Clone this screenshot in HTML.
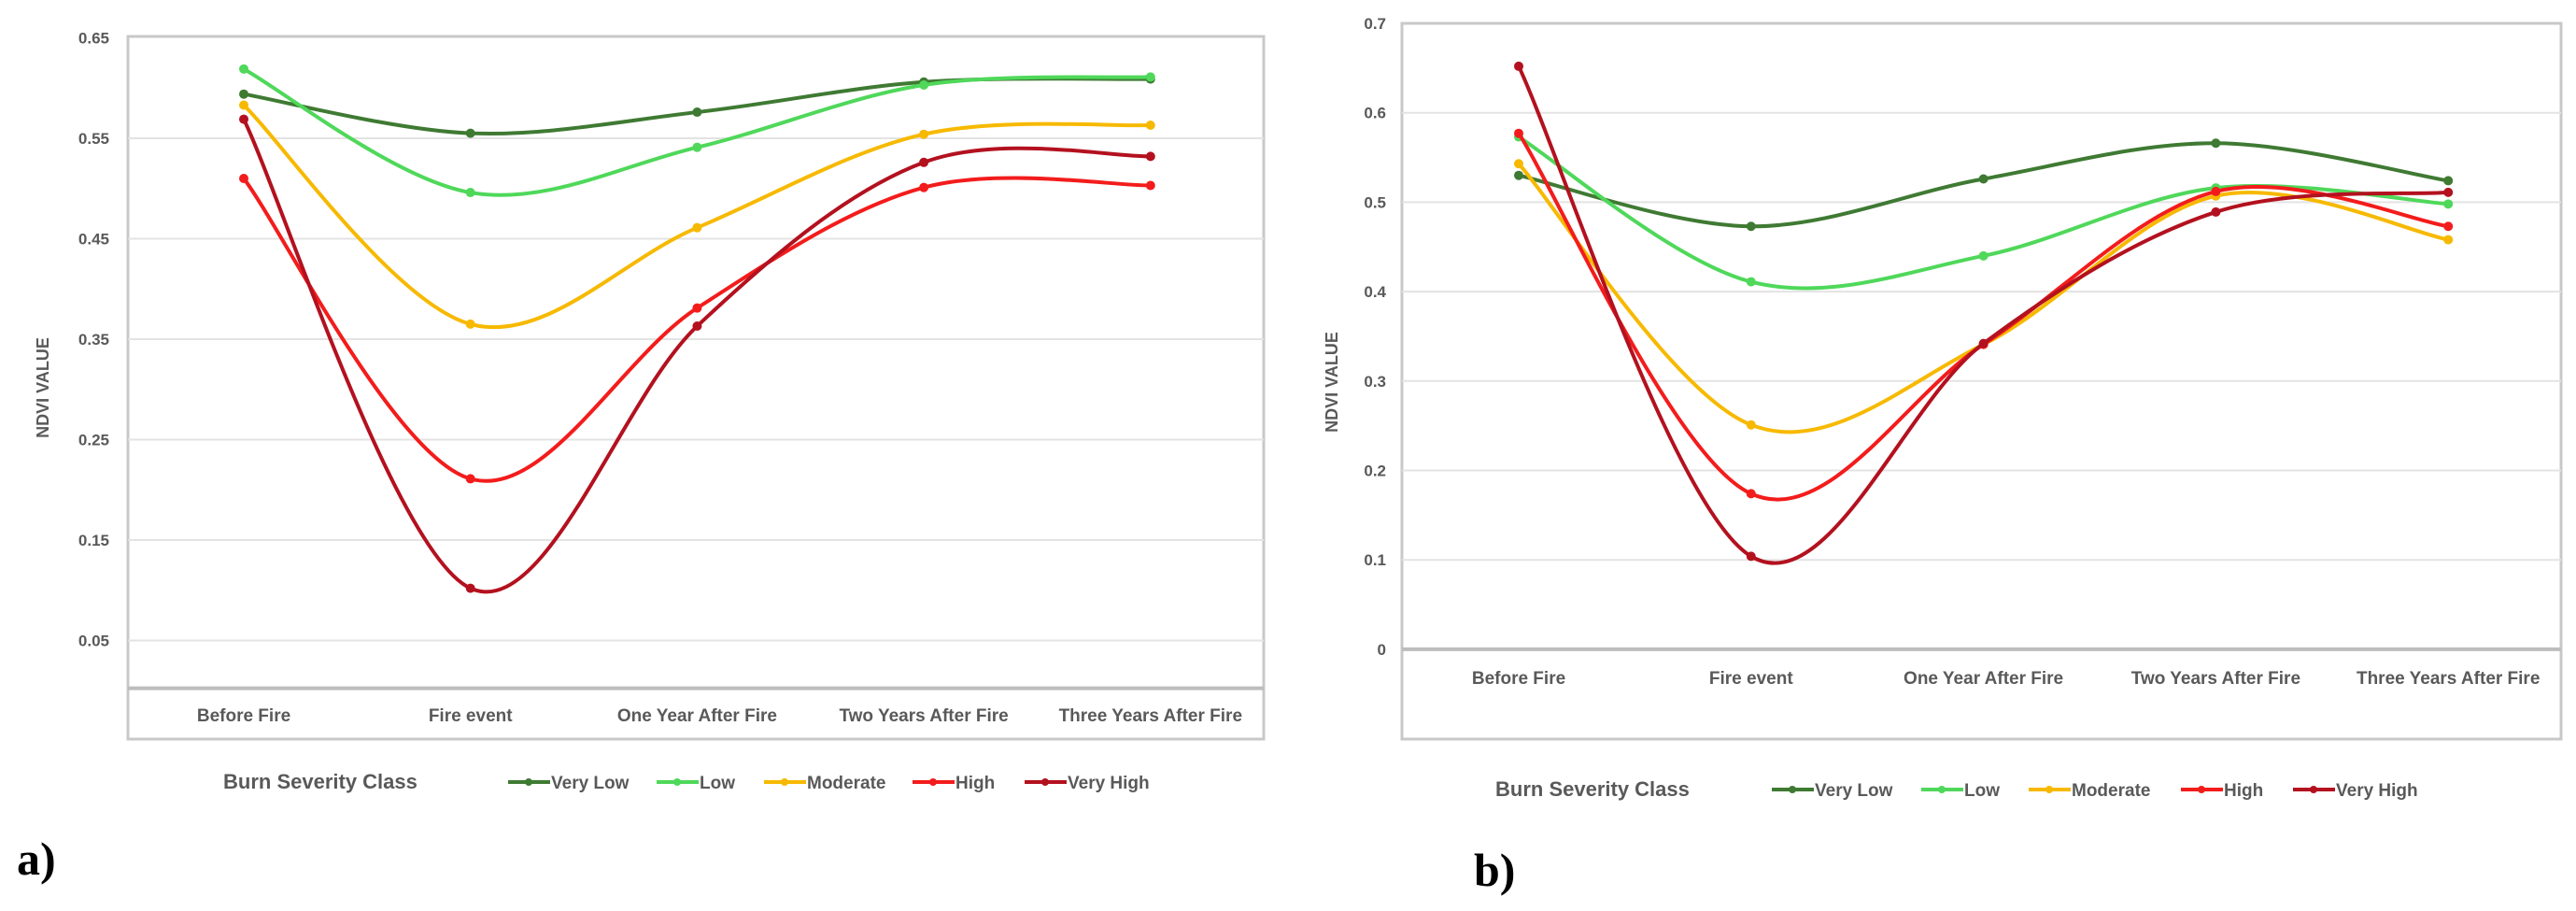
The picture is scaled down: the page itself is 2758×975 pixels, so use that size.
<!DOCTYPE html>
<html><head><meta charset="utf-8">
<style>
html,body{margin:0;padding:0;background:#fff;}
svg{display:block;}
text{font-family:"Liberation Sans Narrow","Liberation Sans",sans-serif;font-weight:bold;fill:#595959;}
</style></head>
<body>
<svg id="fig" width="2758" height="975" viewBox="0 0 2758 975" xmlns="http://www.w3.org/2000/svg"></svg>
<script>
const categories = ["Before Fire","Fire  event","One Year After Fire","Two Years After Fire","Three Years After Fire"];
const seriesNames = ["Very Low","Low","Moderate","High","Very High"];
const seriesColors = ["#3f7a33","#4fd85a","#f7b900","#f31c1c","#b3111f"];
const aVeryLow  = [0.594,0.555,0.576,0.606,0.609];
const aLow      = [0.619,0.496,0.541,0.603,0.611];
const aModerate = [0.583,0.365,0.461,0.554,0.563];
const aHigh     = [0.510,0.211,0.381,0.501,0.503];
const aVeryHigh = [0.569,0.102,0.363,0.526,0.532];
const bVeryLow  = [0.530,0.473,0.526,0.566,0.524];
const bLow      = [0.573,0.411,0.440,0.516,0.498];
const bModerate = [0.543,0.251,0.341,0.507,0.458];
const bHigh     = [0.577,0.174,0.341,0.512,0.473];
const bVeryHigh = [0.652,0.104,0.342,0.489,0.511];
const aTicks = ["0.65","0.55","0.45","0.35","0.25","0.15","0.05"];
const aTickVals = [0.65,0.55,0.45,0.35,0.25,0.15,0.05];
const bTicks = ["0.7","0.6","0.5","0.4","0.3","0.2","0.1","0"];
const bTickVals = [0.7,0.6,0.5,0.4,0.3,0.2,0.1,0];

const NS="http://www.w3.org/2000/svg";
const svg=document.getElementById('fig');
function mk(tag,attrs,parent){const e=document.createElementNS(NS,tag);for(const k in attrs)e.setAttribute(k,attrs[k]);(parent||svg).appendChild(e);return e;}

function drawChart(cfg){
  const g=mk('g',{});
  
  
  const y=v=>cfg.y0+(cfg.vTop-v)*cfg.pxPerUnit;
  const x=i=>cfg.xStart+i*cfg.xStep;
  const box=mk('rect',{x:cfg.left,y:cfg.top,width:cfg.right-cfg.left,height:cfg.bottom-cfg.top,fill:'none',stroke:'#c8c8c8','stroke-width':3},g);
  
  
  cfg.tickVals.forEach((v,i)=>{
    if(i>0){const gl=mk('line',{x1:cfg.left,x2:cfg.right,y1:y(v),y2:y(v),stroke:'#e3e3e3','stroke-width':2},g);
      
      }
    const t=mk('text',{x:cfg.tickX,y:y(v)+6,'text-anchor':'end','font-size':17},g);
    t.textContent=cfg.ticks[i];
    
    
  });
  const ax=mk('line',{x1:cfg.left,x2:cfg.right,y1:y(cfg.axisVal),y2:y(cfg.axisVal),stroke:'#bdbdbd','stroke-width':4},g);
  
  
  const yt=mk('text',{x:cfg.ytX,y:cfg.ytY,'text-anchor':'middle','font-size':18,transform:`rotate(-90 ${cfg.ytX} ${cfg.ytY})`},g);
  yt.textContent='NDVI VALUE';
  
  
  categories.forEach((c,i)=>{
    const t=mk('text',{x:x(i),y:cfg.catY,'text-anchor':'middle','font-size':19},g);
    t.textContent=c;
    
    
  });
  cfg.data.forEach((vals,si)=>{
    const pts=vals.map((v,i)=>[x(i),y(v)]);
    let d=`M${pts[0][0]},${pts[0][1]}`;
    const tn=1/6;
    for(let i=0;i<pts.length-1;i++){
      const p0=pts[Math.max(0,i-1)],p1=pts[i],p2=pts[i+1],p3=pts[Math.min(pts.length-1,i+2)];
      const c1=[p1[0]+(p2[0]-p0[0])*tn,p1[1]+(p2[1]-p0[1])*tn];
      const c2=[p2[0]-(p3[0]-p1[0])*tn,p2[1]-(p3[1]-p1[1])*tn];
      d+=` C${c1[0]},${c1[1]} ${c2[0]},${c2[1]} ${p2[0]},${p2[1]}`;
    }
    const path=mk('path',{d:d,fill:'none',stroke:seriesColors[si],'stroke-width':4},g);
    
    
    pts.forEach(p=>{
      const c=mk('circle',{cx:p[0],cy:p[1],r:5,fill:seriesColors[si]},g);
      
      
    });
  });
  const lt=mk('text',{x:cfg.legTitleX,y:cfg.legY+7,'font-size':22},g);
  lt.textContent='Burn Severity Class';
  
  
  seriesNames.forEach((n,si)=>{
    const lx=cfg.legX[si];
    const ln=mk('line',{x1:lx,x2:lx+45,y1:cfg.legY,y2:cfg.legY,stroke:seriesColors[si],'stroke-width':4},g);
    
    
    mk('circle',{cx:lx+22,cy:cfg.legY,r:4,fill:seriesColors[si]},g);
    const t=mk('text',{x:lx+46,y:cfg.legY+7,'font-size':19},g);
    t.textContent=n;
    
    
  });
  const pl=mk('text',{x:cfg.panelX,y:cfg.panelY,'font-size':50,style:'font-family:"Liberation Serif",serif;fill:#000'},g);
  pl.textContent=cfg.panel;
  
  
}

drawChart({name:'chart-a',left:137,right:1353,top:39,bottom:791,y0:40.5,vTop:0.65,pxPerUnit:1075,
  xStart:261,xStep:242.7,tickVals:aTickVals,ticks:aTicks,tickX:117,axisVal:0.0025,ytX:52,ytY:415,catY:772,
  data:[aVeryLow,aLow,aModerate,aHigh,aVeryHigh],legTitleX:239,legY:837,legX:[544,703,818,977,1097],
  panel:'a)',panelX:18,panelY:936});
drawChart({name:'chart-b',left:1501,right:2742,top:25,bottom:791,y0:25,vTop:0.7,pxPerUnit:957,
  xStart:1626,xStep:248.8,tickVals:bTickVals,ticks:bTicks,tickX:1484,axisVal:0,ytX:1432,ytY:409,catY:732,
  data:[bVeryLow,bLow,bModerate,bHigh,bVeryHigh],legTitleX:1601,legY:845,legX:[1897,2057,2172,2335,2455],
  panel:'b)',panelX:1578,panelY:948});
</script>
</body></html>
